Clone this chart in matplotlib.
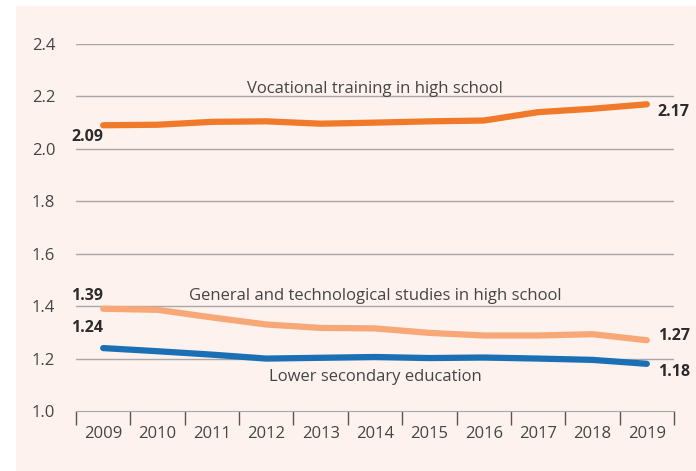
import matplotlib.pyplot as plt
from matplotlib.patches import Rectangle

plt.rcParams['font.family'] = ['Open Sans', 'DejaVu Sans']

years = [2009, 2010, 2011, 2012, 2013, 2014, 2015, 2016, 2017, 2018, 2019]
vocational = [2.09, 2.092, 2.103, 2.105, 2.096, 2.10, 2.105, 2.108, 2.14, 2.153, 2.17]
general = [1.39, 1.386, 1.357, 1.33, 1.317, 1.315, 1.298, 1.288, 1.288, 1.293, 1.27]
lower = [1.24, 1.228, 1.215, 1.20, 1.203, 1.206, 1.202, 1.204, 1.20, 1.195, 1.18]
yticks = [1.0, 1.2, 1.4, 1.6, 1.8, 2.0, 2.2, 2.4]

bg = '#fdf2ee'
txt = '#454545'

fig = plt.figure(figsize=(6.96, 4.71), dpi=100, facecolor='white')
fig.patches.append(Rectangle((16/696, 0), 1, 1 - 6/471, transform=fig.transFigure,
                             facecolor=bg, edgecolor='none', zorder=-1))
ax = fig.add_axes([76/696, 1 - 411/471, (674 - 76)/696, (411 - 44)/471])
ax.set_facecolor('none')

x = list(range(len(years)))
ax.plot(x, vocational, color='#f07a2a', lw=4.5, solid_capstyle='round', zorder=3)
ax.plot(x, general, color='#f8a877', lw=4.5, solid_capstyle='round', zorder=3)
ax.plot(x, lower, color='#1a6fb5', lw=4.5, solid_capstyle='round', zorder=3)

ax.set_xlim(-0.5, len(years) - 0.5)
ax.set_ylim(1.0, 2.4)
ax.set_yticks(yticks)
ax.set_yticklabels([f'{v:.1f}' for v in yticks], fontsize=12, color=txt)
for v in yticks[1:]:
    ax.axhline(v, color='#a8a8a8', lw=1, zorder=1)

ax.set_xticks(x)
ax.set_xticklabels([str(y) for y in years], fontsize=12, color=txt)
ax.set_xticks([i - 0.5 for i in range(len(years) + 1)], minor=True)
ax.tick_params(axis='x', which='major', length=0, pad=11)
ax.tick_params(axis='x', which='minor', length=10, width=1, color='#555555', direction='out')
ax.tick_params(axis='y', length=0, pad=15)

for s in ['top', 'right', 'left']:
    ax.spines[s].set_visible(False)
ax.spines['bottom'].set_color('#a8a8a8')

ax.text(5, 2.228, 'Vocational training in high school', ha='center', va='center', fontsize=12, color=txt)
ax.text(5, 1.438, 'General and technological studies in high school', ha='center', va='center', fontsize=12, color=txt)
ax.text(5, 1.128, 'Lower secondary education', ha='center', va='center', fontsize=12, color=txt)

bold = dict(fontsize=11.5, fontweight='bold', color='#2b2b2b', va='center')
ax.text(-0.3, vocational[0] - 0.045, f'{vocational[0]:.2f}', ha='center', **bold)
ax.text(-0.3, general[0] + 0.05, f'{general[0]:.2f}', ha='center', **bold)
ax.text(-0.3, lower[0] + 0.075, f'{lower[0]:.2f}', ha='center', **bold)
ax.text(10.2, vocational[-1] - 0.03, f'{vocational[-1]:.2f}', ha='left', **bold)
ax.text(10.2, general[-1] + 0.015, f'{general[-1]:.2f}', ha='left', **bold)
ax.text(10.2, lower[-1] - 0.03, f'{lower[-1]:.2f}', ha='left', **bold)

fig.savefig('out.png', dpi=100, facecolor='white')
